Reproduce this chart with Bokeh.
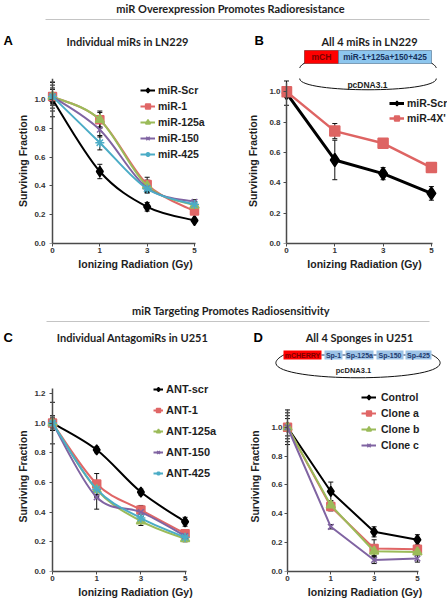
from bokeh.plotting import figure
from bokeh.models import (Range1d, FixedTicker, Legend, LegendItem, Whisker, TeeHead,
                          ColumnDataSource, PrintfTickFormatter, LinearAxis)
from bokeh.layouts import column, row
from bokeh.core.properties import value
from bokeh.embed import file_html
from bokeh.resources import INLINE

# ---------------- data ----------------
gy_labels = ["0", "1", "3", "5"]
x_label = "Ionizing Radiation (Gy)"
y_label = "Surviving Fraction"

header_top = "miR Overexpression Promotes Radioresistance"
header_bottom = "miR Targeting Promotes Radiosensitivity"

# Panel A
a_title = "Individual miRs in LN229"
a_names = ["miR-Scr", "miR-1", "miR-125a", "miR-150", "miR-425"]
a_scr = [1.00, 0.50, 0.255, 0.16]
a_mir1 = [1.02, 0.86, 0.41, 0.225]
a_mir125a = [1.02, 0.86, 0.40, 0.265]
a_mir150 = [1.02, 0.79, 0.385, 0.29]
a_mir425 = [1.02, 0.70, 0.38, 0.27]
a_scr_err = [0.12, 0.05, 0.03, 0.01]
a_mir1_err = [0.05, 0.06, 0.05, 0.02]
a_mir125a_err = [0.08, 0.05, 0.04, 0.02]
a_mir150_err = [0.10, 0.05, 0.03, 0.015]
a_mir425_err = [0.06, 0.05, 0.03, 0.02]

# Panel B
b_title = "All 4 miRs in LN229"
b_names = ["miR-Scr", "miR-4X'"]
b_scr = [0.99, 0.55, 0.46, 0.33]
b_mir4x = [1.00, 0.74, 0.66, 0.50]
b_scr_err = [0.08, 0.13, 0.04, 0.045]
b_mir4x_err = [0.03, 0.05, 0.02, 0.01]
b_construct = ["mCH", "miR-1+125a+150+425"]
vector_name = "pcDNA3.1"

# Panel C
c_title = "Individual AntagomiRs in U251"
c_names = ["ANT-scr", "ANT-1", "ANT-125a", "ANT-150", "ANT-425"]
c_scr = [1.00, 0.82, 0.535, 0.335]
c_ant1 = [1.00, 0.59, 0.415, 0.255]
c_ant125a = [1.00, 0.55, 0.34, 0.22]
c_ant150 = [1.00, 0.50, 0.40, 0.24]
c_ant425 = [1.00, 0.555, 0.36, 0.23]
c_scr_err = [0.14, 0.02, 0.02, 0.03]
c_ant1_err = [0.05, 0.07, 0.03, 0.02]
c_ant125a_err = [0.04, 0.05, 0.03, 0.02]
c_ant150_err = [0.03, 0.08, 0.03, 0.02]
c_ant425_err = [0.03, 0.05, 0.03, 0.02]

# Panel D
d_title = "All 4 Sponges in U251"
d_names = ["Control", "Clone a", "Clone b", "Clone c"]
d_ctrl = [1.00, 0.555, 0.275, 0.22]
d_clone_a = [1.00, 0.45, 0.16, 0.155]
d_clone_b = [1.00, 0.46, 0.14, 0.135]
d_clone_c = [1.00, 0.31, 0.08, 0.09]
d_ctrl_err = [0.12, 0.065, 0.035, 0.035]
d_clone_a_err = [0.10, 0.03, 0.06, 0.02]
d_clone_b_err = [0.08, 0.03, 0.03, 0.02]
d_clone_c_err = [0.06, 0.015, 0.025, 0.025]
d_construct = ["mCHERRY", "Sp-1", "Sp-125a", "Sp-150", "Sp-425"]

# ---------------- styles ----------------
BLACK = "#000000"
RED = "#E06666"
GREEN = "#9BBB59"
PURPLE = "#8064A2"
CYAN = "#4BACC6"
AXIS = "#4a4a4a"
TXT = "#1e1e1e"
TITLE_FONT = "Lato"
FONT = "Liberation Sans"
OFF = 5.0  # px between frame left edge and the y axis rule (x = 0)


def put_text(p, x, y, s, size, font=TITLE_FONT, color=TXT, align="center",
             style="bold", **kw):
    p.text(x=[x], y=[y], text=[s], text_font=value(font), text_font_size=value(size),
           text_font_style=style, text_color=color, text_align=align,
           text_baseline="middle", **kw)


def decor(y_top, y_bot):
    return figure(width=447, height=y_bot - y_top, x_range=Range1d(0, 447),
                  y_range=Range1d(y_bot, y_top), toolbar_location=None,
                  output_backend="svg", min_border=0, x_axis_type=None,
                  y_axis_type=None, outline_line_color=None)


def style_axis(ax):
    ax.axis_line_color = AXIS
    ax.axis_line_width = 1.5
    ax.major_tick_line_color = AXIS
    ax.major_tick_line_width = 1
    ax.major_tick_in = 0
    ax.major_tick_out = 3
    ax.minor_tick_in = 0
    ax.minor_tick_out = 0
    ax.major_label_text_font = FONT
    ax.major_label_text_font_style = "bold"
    ax.major_label_text_font_size = "8px"
    ax.major_label_text_color = "#333333"
    ax.axis_label_text_font = FONT
    ax.axis_label_text_font_style = "bold"
    ax.axis_label_text_font_size = "10.5px"
    ax.axis_label_text_color = TXT


def make_panel(W, H, bl, bt, bb, ppx, ppy, ybound, yticks, ystand, ylabstand,
               xbound=3.03):
    fw = W - bl
    fh = H - bt - bb
    xs = -OFF / ppx
    p = figure(width=W, height=H, x_range=Range1d(xs, xs + fw / ppx),
               y_range=Range1d(0, fh / ppy), toolbar_location=None,
               output_backend="svg", min_border_left=bl, min_border_right=0,
               min_border_top=bt, min_border_bottom=bb, outline_line_color=None)
    p.grid.visible = False
    xa, ya = p.xaxis[0], p.yaxis[0]
    style_axis(xa)
    style_axis(ya)
    xa.axis_label = x_label
    xa.ticker = FixedTicker(ticks=list(range(len(gy_labels))))
    xa.major_label_overrides = {i: lab for i, lab in enumerate(gy_labels)}
    xa.major_label_standoff = 1
    xa.axis_label_standoff = 2
    xa.bounds = (0, xbound)
    # labels of the y axis (at the frame edge); its rule is drawn at x = 0 below
    ya.axis_label = y_label
    ya.ticker = FixedTicker(ticks=yticks)
    ya.formatter = PrintfTickFormatter(format="%.1f")
    ya.major_label_standoff = ystand
    ya.axis_label_standoff = ylabstand
    ya.axis_line_color = None
    ya.major_tick_out = 0
    # rule + ticks of the y axis, crossing the x axis at 0 Gy
    rule = LinearAxis(fixed_location=0, ticker=FixedTicker(ticks=yticks),
                      bounds=(0, ybound))
    style_axis(rule)
    rule.major_label_text_font_size = "0px"
    rule.major_label_overrides = {t: "" for t in yticks}
    p.add_layout(rule, "left")
    return p


def draw_series(p, ys, errs, color, marker, size, lw=2, smooth=False):
    xs = list(range(len(gy_labels)))
    if smooth:
        n = len(xs)
        x0, y0, x1, y1, cx0, cy0, cx1, cy1 = ([] for _ in range(8))
        for i in range(n - 1):
            a, b = max(i - 1, 0), min(i + 2, n - 1)
            x0.append(xs[i]); y0.append(ys[i])
            x1.append(xs[i + 1]); y1.append(ys[i + 1])
            cx0.append(xs[i] + (xs[i + 1] - xs[a]) / 6.0)
            cy0.append(ys[i] + (ys[i + 1] - ys[a]) / 6.0)
            cx1.append(xs[i + 1] - (xs[b] - xs[i]) / 6.0)
            cy1.append(ys[i + 1] - (ys[b] - ys[i]) / 6.0)
        r_line = p.bezier(x0=x0, y0=y0, x1=x1, y1=y1, cx0=cx0, cy0=cy0, cx1=cx1,
                          cy1=cy1, line_color=color, line_width=lw)
    else:
        r_line = p.line(xs, ys, line_color=color, line_width=lw)
    src = ColumnDataSource(dict(x=xs, upper=[y + e for y, e in zip(ys, errs)],
                                lower=[y - e for y, e in zip(ys, errs)]))
    p.add_layout(Whisker(source=src, base="x", upper="upper", lower="lower",
                         line_color="#111111", line_width=1,
                         upper_head=TeeHead(size=5, line_color="#111111", line_width=1),
                         lower_head=TeeHead(size=5, line_color="#111111", line_width=1)))
    r_pts = p.scatter(xs, ys, marker=marker, size=size, fill_color=color,
                      line_color=color, line_width=1.5)
    return [r_line, r_pts]


def add_legend(p, names, renderers, loc, gw, gh, sp, standoff, fsize="10.5px"):
    items = [LegendItem(label=n, renderers=r) for n, r in zip(names, renderers)]
    lg = Legend(items=items, location=loc, orientation="vertical",
                border_line_color=None, background_fill_alpha=0, padding=0,
                margin=0, spacing=sp, glyph_width=gw, glyph_height=gh,
                label_height=gh, label_standoff=standoff, label_text_font=FONT,
                label_text_font_style="bold", label_text_font_size=fsize,
                label_text_color=TXT)
    p.add_layout(lg)


yt10 = [0.0, 0.2, 0.4, 0.6, 0.8, 1.0]
yt12 = [0.0, 0.2, 0.4, 0.6, 0.8, 1.0, 1.2]

# B construct loop (page pixels); drawn in both the band above and panel B
b_loop = dict(x0=[305], y0=[62], x1=[430], y1=[62], cx0=[262], cy0=[86], cx1=[473],
              cy1=[86], line_color="#111111", line_width=1)

# ---------------- top band ----------------
d1 = decor(0, 68)
put_text(d1, 230, 8, header_top, "11px")
d1.segment(x0=[45], y0=[19], x1=[429], y1=[19], line_color="#c4c4c4", line_width=1)
put_text(d1, 3, 40, "A", "13px", font=FONT, color=BLACK, align="left")
put_text(d1, 127, 41, a_title, "11px")
put_text(d1, 254, 40, "B", "13px", font=FONT, color=BLACK, align="left")
put_text(d1, 369, 41, b_title, "11px")
d1.bezier(**b_loop)
d1.quad(left=[304], right=[338], top=[50], bottom=[63], fill_color="#FF0000",
        line_color="#7a1010", line_width=0.6)
d1.quad(left=[338], right=[431], top=[50], bottom=[63], fill_color="#8DC6EE",
        line_color="#4a6f8f", line_width=0.6)
put_text(d1, 321, 56.5, b_construct[0], "8.6px", font=FONT, color="#7a0000")
put_text(d1, 384.5, 56.5, b_construct[1], "8.3px", font=FONT, color="#16305a")

# Panel A
pA = make_panel(223, 217, 47, 10, 42, 47.33, 144, 1.146, yt10, 2, 2)
a_series = [(a_scr, a_scr_err, BLACK, "diamond", 10),
            (a_mir1, a_mir1_err, RED, "square", 8),
            (a_mir125a, a_mir125a_err, GREEN, "triangle", 9),
            (a_mir150, a_mir150_err, PURPLE, "x", 8),
            (a_mir425, a_mir425_err, CYAN, "asterisk", 9)]
a_r = [draw_series(pA, ys, es, c, m, s, lw=2, smooth=True)
       for ys, es, c, m, s in a_series]
add_legend(pA, a_names, a_r, (93, 83), 15, 12, 4, 3)

# Panel B
pB = make_panel(224, 217, 58, 0, 41, 48.3, 162, 1.062, yt10, 1, 7, xbound=3.02)
b_r = [draw_series(pB, b_scr, b_scr_err, BLACK, "diamond", 13, lw=3),
       draw_series(pB, b_mir4x, b_mir4x_err, "#DE6463", "square", 10, lw=2.5)]
add_legend(pB, b_names, b_r, (108, 119), 15, 12, 3, 3)
pB.extra_x_ranges = {"px": Range1d(281, 447)}
pB.extra_y_ranges = {"py": Range1d(244, 68)}
pB.bezier(x_range_name="px", y_range_name="py", **b_loop)
put_text(pB, 367, 75, vector_name, "8.5px", font=FONT, color=TXT,
         x_range_name="px", y_range_name="py")

# ---------------- bottom band ----------------
d2 = decor(285, 380)
put_text(d2, 230.5, 310, header_bottom, "11px")
d2.segment(x0=[46], y0=[321], x1=[429], y1=[321], line_color="#c4c4c4", line_width=1)
put_text(d2, 3, 337, "C", "13px", font=FONT, color=BLACK, align="left")
put_text(d2, 132, 337, c_title, "11px")
put_text(d2, 253, 337, "D", "13px", font=FONT, color=BLACK, align="left")
put_text(d2, 359, 337, d_title, "11px")
d2.bezier(x0=[284], y0=[354], x1=[431], y1=[354], cx0=[225], cy0=[385], cx1=[490],
          cy1=[385], line_color="#111111", line_width=1)
box_l = [283, 324, 345, 376, 405]
box_r = [321, 342, 373, 403, 431]
box_c = ["#FF0000", "#9DC3E6", "#9DC3E6", "#9DC3E6", "#9DC3E6"]
d2.quad(left=box_l, right=box_r, top=[350] * 5, bottom=[359] * 5, fill_color=box_c,
        line_color=None)
d2.segment(x0=box_r[:-1], y0=[354.5] * 4, x1=box_l[1:], y1=[354.5] * 4,
           line_color="#1f3a6e", line_width=1)
for lbl, l, r in zip(d_construct, box_l, box_r):
    put_text(d2, (l + r) / 2, 354.5, lbl, "7px", font=FONT,
             color="#7a0000" if lbl == d_construct[0] else "#1f3a6e")
put_text(d2, 353, 370, vector_name, "7.5px", font=FONT, color=TXT)

# Panel C
pC = make_panel(223, 220, 47, 1, 28, 44.2, 149.2, 1.233, yt12, 2, 2)
c_series = [(c_scr, c_scr_err, BLACK, "diamond", 10),
            (c_ant1, c_ant1_err, RED, "square", 8),
            (c_ant125a, c_ant125a_err, GREEN, "triangle", 9),
            (c_ant150, c_ant150_err, PURPLE, "x", 8),
            (c_ant425, c_ant425_err, CYAN, "asterisk", 9)]
c_r = [draw_series(pC, ys, es, c, m, s, lw=2, smooth=True)
       for ys, es, c, m, s in c_series]
add_legend(pC, c_names, c_r, (106, 91), 10, 14, 7, 3, fsize="11px")

# Panel D
pD = make_panel(224, 220, 59, 0, 29, 43.3, 145, 1.124, yt10, 0, 7)
d_series = [(d_ctrl, d_ctrl_err, BLACK, "diamond", 10),
            (d_clone_a, d_clone_a_err, RED, "square", 8),
            (d_clone_b, d_clone_b_err, GREEN, "triangle", 9),
            (d_clone_c, d_clone_c_err, PURPLE, "x", 8)]
d_r = [draw_series(pD, ys, es, c, m, s, lw=2) for ys, es, c, m, s in d_series]
add_legend(pD, d_names, d_r, (79, 120), 15, 12, 4, 5)

layout = column(d1, row(pA, pB, spacing=0), d2, row(pC, pD, spacing=0), spacing=0)
open("out.html", "w").write(file_html(layout, INLINE))
